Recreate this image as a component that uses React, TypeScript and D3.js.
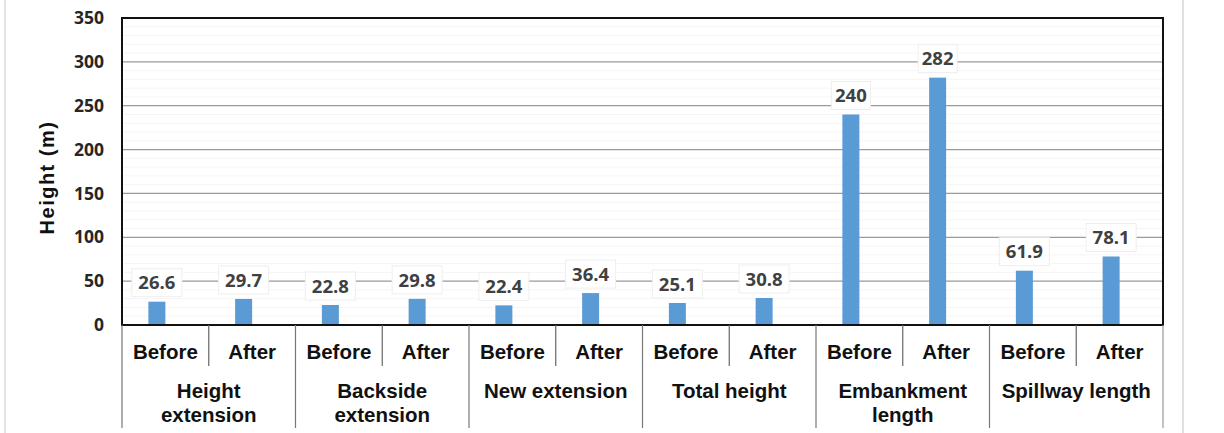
import React from 'react';
import * as d3 from 'd3';

const groups = ['Height\nextension', 'Backside\nextension', 'New extension', 'Total height', 'Embankment\nlength', 'Spillway length'];
const phases = ['Before', 'After'];
const values = [26.6, 29.7, 22.8, 29.8, 22.4, 36.4, 25.1, 30.8, 240, 282, 61.9, 78.1];
const yTicks = [0, 50, 100, 150, 200, 250, 300, 350];

const W = 1224;
const H = 433;
const M = { left: 122, right: 1163, top: 18, bottom: 325 };

const App = () => {
  const cats = groups.flatMap((g, gi) => phases.map((p) => `${gi}|${p}`));
  const x = d3.scaleBand().domain(cats).range([M.left, M.right]).padding(0);
  const y = d3.scaleLinear().domain([0, 350]).range([M.bottom, M.top]);
  // excel style cluster: two slots, only the first one holds a bar
  const slot = d3.scaleBand().domain(['v', 'blank']).range([0, 34]);
  const bw = slot.bandwidth();
  const groupW = x.bandwidth() * 2;
  const minor = d3.range(0, 351, 10).filter((v) => v % 50 !== 0);
  const font = '"Liberation Sans", Arial, sans-serif';
  const tickFont = '"Open Sans", "Liberation Sans", sans-serif';

  return (
    <div style={{ position: 'absolute', left: 0, top: 0 }}>
      <svg width={W} height={H} style={{ display: 'block', background: '#fff' }}>
        <line x1={5} x2={5} y1={0} y2={H} stroke="#e4e4e4" strokeWidth={2} />
        <line x1={1183} x2={1183} y1={0} y2={H} stroke="#e0e0e0" strokeWidth={2} />

        {minor.map((v) => (
          <line key={'m' + v} x1={M.left} x2={M.right} y1={y(v)} y2={y(v)} stroke="#f5f5f5" strokeWidth={1} />
        ))}
        {yTicks.map((v) => (
          <g key={v}>
            <line x1={M.left} x2={M.right} y1={y(v)} y2={y(v)} stroke="#9a9a9a" strokeWidth={1.3} />
            <text x={104} y={y(v)} dy="0.35em" textAnchor="end" fontFamily={tickFont} fontWeight={700} fontSize={17.5} fill="#262626">
              {v}
            </text>
          </g>
        ))}

        {values.map((v, i) => {
          const bx = (x(cats[i]) as number) + x.bandwidth() / 2 - 17 + (slot('v') as number);
          const cx = bx + bw / 2;
          const ly = y(v) - 19;
          const label = String(v);
          const tw = label.length * 11 + 6;
          return (
            <g key={i}>
              <rect x={bx} y={y(v)} width={bw} height={M.bottom - y(v)} fill="#5b9bd5" />
              <rect x={cx - tw / 2} y={ly - 14} width={tw} height={28} fill="#fff" stroke="#eeeeee" strokeWidth={1} />
              <text x={cx} y={ly} dy="0.36em" textAnchor="middle" fontFamily={tickFont} fontWeight={700} fontSize={18.5} fill="#404040">
                {label}
              </text>
            </g>
          );
        })}

        <rect x={M.left} y={M.top} width={M.right - M.left} height={M.bottom - M.top} fill="none" stroke="#111" strokeWidth={2} />

        {cats.map((c, i) => {
          const cx = (x(c) as number) + x.bandwidth() / 2;
          return (
            <g key={c}>
              <text x={cx} y={352} dy="0.35em" textAnchor="middle" fontFamily={font} fontWeight={700} fontSize={20.5} fill="#111">
                {phases[i % 2]}
              </text>
              {i % 2 === 1 && (
                <line x1={x(c) as number} x2={x(c) as number} y1={M.bottom} y2={366} stroke="#666" strokeWidth={1.2} />
              )}
            </g>
          );
        })}

        {groups.map((g, gi) => {
          const gx = x(`${gi}|Before`) as number;
          const lines = g.split('\n');
          return (
            <g key={g}>
              <line x1={gx} x2={gx} y1={M.bottom} y2={428} stroke="#777" strokeWidth={1.2} />
              {lines.map((t, li) => (
                <text key={li} x={gx + groupW / 2} y={391 + li * 24} dy="0.35em" textAnchor="middle" fontFamily={font} fontWeight={700} fontSize={20.5} fill="#111">
                  {t}
                </text>
              ))}
            </g>
          );
        })}
        <line x1={M.right} x2={M.right} y1={M.bottom} y2={428} stroke="#999" strokeWidth={1.2} />

        <text transform={`translate(47,${(M.top + M.bottom) / 2 + 6}) rotate(-90)`} textAnchor="middle" dy="0.35em" fontFamily={font} fontWeight={700} fontSize={20} letterSpacing={1.5} fill="#111">
          Height (m)
        </text>
      </svg>
    </div>
  );
};

export default App;
